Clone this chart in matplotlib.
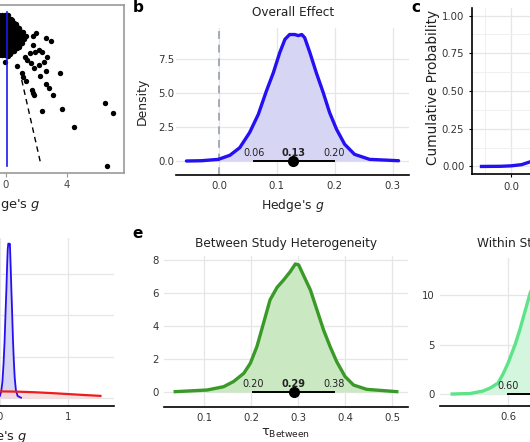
import matplotlib
matplotlib.use('Agg')
import matplotlib.pyplot as plt
from matplotlib.ticker import FormatStrFormatter

# ---- data ----
# funnel plot (panel a): Hedge's g vs standard error (y grows downwards)
funnel_pts = [
    # dense cluster near the top
    (-0.46, 0.10), (-0.26, 0.10), (-0.07, 0.10), (0.13, 0.10),
    (-0.46, 0.14), (-0.26, 0.14), (-0.07, 0.14), (0.13, 0.14), (0.30, 0.14), (0.42, 0.15),
    (-0.46, 0.18), (-0.26, 0.18), (-0.07, 0.18), (0.13, 0.18), (0.33, 0.18), (0.52, 0.18),
    (0.65, 0.19),
    (-0.46, 0.22), (-0.26, 0.22), (-0.07, 0.22), (0.13, 0.22), (0.33, 0.22), (0.52, 0.22),
    (0.72, 0.22), (0.85, 0.23),
    (-0.46, 0.26), (-0.26, 0.26), (-0.07, 0.26), (0.13, 0.26), (0.33, 0.26), (0.52, 0.26),
    (0.72, 0.26), (0.90, 0.26), (1.10, 0.27),
    (-0.46, 0.30), (-0.26, 0.30), (-0.07, 0.30), (0.13, 0.30), (0.33, 0.30), (0.52, 0.30),
    (0.72, 0.30), (0.90, 0.30), (1.10, 0.30), (1.30, 0.31),
    (-0.46, 0.34), (-0.26, 0.34), (-0.07, 0.34), (0.13, 0.34), (0.33, 0.34), (0.52, 0.34),
    (0.72, 0.34), (0.90, 0.34), (1.05, 0.35), (1.20, 0.34),
    (-0.46, 0.38), (-0.26, 0.38), (-0.07, 0.38), (0.13, 0.38), (0.33, 0.38), (0.52, 0.38),
    (0.72, 0.38), (0.90, 0.39), (1.05, 0.38),
    (-0.46, 0.42), (-0.26, 0.42), (-0.07, 0.42), (0.13, 0.42), (0.33, 0.42), (0.52, 0.42),
    (0.72, 0.43), (0.85, 0.42),
    (-0.46, 0.46), (-0.26, 0.46), (-0.07, 0.46), (0.13, 0.46), (0.33, 0.47), (0.55, 0.46),
    (-0.46, 0.50), (-0.26, 0.50), (-0.07, 0.50), (0.13, 0.51), (0.25, 0.49),
    # individual studies around the cluster
    (1.97, 0.28), (1.77, 0.31), (2.62, 0.33), (2.95, 0.36), (1.77, 0.40), (2.16, 0.45),
    (2.36, 0.47), (1.57, 0.48), (1.90, 0.47), (1.25, 0.52), (1.38, 0.55), (-0.07, 0.57),
    (0.72, 0.61), (1.64, 0.58), (1.84, 0.63), (2.16, 0.60), (2.49, 0.57), (2.69, 0.52),
    (2.62, 0.66), (3.54, 0.68), (2.23, 0.71), (1.05, 0.68), (1.11, 0.72), (1.31, 0.76),
    (2.62, 0.79), (2.82, 0.83), (1.70, 0.85), (1.77, 0.88), (1.84, 0.90), (3.08, 0.90),
    (2.36, 1.06), (3.67, 1.04), (6.49, 0.98), (7.02, 1.08), (4.46, 1.22), (6.62, 1.61),
]
pooled_g = 0.09
pooled_se_span = [0.07, 1.61]
funnel_edge_g = [1.03, 2.28]
funnel_edge_se = [0.75, 1.59]

# overall effect posterior (panels b, d)
effect_x = [-0.056, -0.03, -0.001, 0.019, 0.036, 0.053, 0.068, 0.082, 0.094, 0.105,
            0.114, 0.122, 0.131, 0.137, 0.143, 0.148, 0.157, 0.168, 0.180, 0.191,
            0.203, 0.217, 0.234, 0.26, 0.31]
effect_dens = [0.0, 0.02, 0.12, 0.42, 0.98, 2.09, 3.43, 5.15, 6.5, 7.97,
               8.95, 9.3, 9.3, 9.22, 9.3, 9.07, 7.97, 6.5, 5.03, 3.56,
               2.33, 1.23, 0.49, 0.12, 0.02]
effect_ci = [0.061, 0.128, 0.199]   # lower, median, upper
null_effect = 0.0

# cumulative probability (panel c)
cdf_x = [-0.056, -0.04, -0.02, 0.0, 0.02, 0.04, 0.06, 0.08, 0.10, 0.12,
         0.14, 0.16, 0.18, 0.20, 0.25, 0.31]
cdf_y = [0.0, 0.0005, 0.001, 0.004, 0.012, 0.035, 0.08, 0.18, 0.33, 0.52,
         0.70, 0.84, 0.93, 0.97, 0.997, 1.0]

# prior for the effect (panel d)
prior_x = [-1.5, -1.25, -1.0, -0.75, -0.5, -0.25, 0.0, 0.25, 0.5, 0.75, 1.0, 1.25, 1.48]
prior_y = [0.13, 0.18, 0.24, 0.30, 0.35, 0.385, 0.40, 0.385, 0.35, 0.30, 0.24, 0.18, 0.13]

# between study heterogeneity (panel e)
tau_b_x = [0.038, 0.106, 0.141, 0.162, 0.184, 0.198, 0.212, 0.226, 0.240, 0.255,
           0.269, 0.283, 0.294, 0.301, 0.311, 0.326, 0.340, 0.354, 0.368, 0.382,
           0.400, 0.418, 0.446, 0.51]
tau_b_dens = [0.02, 0.12, 0.32, 0.63, 1.13, 1.74, 2.75, 4.16, 5.58, 6.34,
              6.79, 7.29, 7.76, 7.7, 7.09, 6.18, 4.97, 3.76, 2.75, 1.84,
              0.93, 0.42, 0.16, 0.02]
tau_b_ci = [0.204, 0.29, 0.376]

# within study heterogeneity (panel f)
tau_w_x = [0.522, 0.547, 0.565, 0.575, 0.586, 0.593, 0.600, 0.610, 0.617, 0.624,
           0.631, 0.641, 0.652, 0.666, 0.680, 0.701, 0.728, 0.756, 0.791, 0.857]
tau_w_dens = [0.0, 0.05, 0.3, 0.6, 1.1, 2.0, 3.1, 5.0, 6.6, 8.4,
              10.2, 11.9, 12.9, 12.5, 10.8, 7.5, 3.8, 1.5, 0.4, 0.0]
tau_w_ci = [0.60, 0.655, 0.745]

W, H = 530, 442
BLUE = '#2410f2'
BLUE_FILL = '#d6d6f4'
RED = '#ee1c1c'
RED_FILL = '#f6d8d8'
GREEN = '#3a9a28'
GREEN_FILL = '#cae8c2'
LGREEN = '#5ee388'
LGREEN_FILL = '#d5f6de'
GRID = '#e6e6e6'
TICK_FS = 7.3


def box(left, top, right, bottom):
    """axes rectangle from pixel edges of the 530x442 canvas"""
    return [left / W, 1 - bottom / H, (right - left) / W, (bottom - top) / H]


def minimal(ax, left_line=False):
    for s in ['top', 'right', 'left']:
        ax.spines[s].set_visible(False)
    ax.spines['bottom'].set_color('black')
    ax.spines['bottom'].set_linewidth(1.2)
    if left_line:
        ax.spines['left'].set_visible(True)
        ax.spines['left'].set_color('black')
        ax.spines['left'].set_linewidth(1.2)
    ax.grid(True, color=GRID, linewidth=0.9)
    ax.set_axisbelow(True)
    ax.tick_params(length=0, labelsize=TICK_FS, labelcolor='#333333', pad=4)


def interval(ax, ci, color='black'):
    lo, med, hi = ci
    ax.plot([lo, hi], [0, 0], color=color, lw=1.4, zorder=4)
    ax.plot(med, 0, 'o', color=color, ms=7, zorder=5)
    for v, w in [(lo, 'normal'), (med, 'bold'), (hi, 'normal')]:
        ax.annotate(f'{v:.2f}', (v, 0), xytext=(0, 3.5), textcoords='offset points',
                    ha='center', va='baseline', fontsize=7, fontweight=w, color='#222222')


fig = plt.figure(figsize=(W / 100, H / 100), dpi=100)

# ---- a: funnel plot ----
ax = fig.add_axes(box(-110, 5, 124, 173))
g, se = zip(*funnel_pts)
ax.scatter(g, se, s=15, color='black', zorder=3, linewidths=0)
ax.plot([pooled_g, pooled_g], pooled_se_span, color='#1a1aee', lw=1.2, zorder=4)
ax.plot(funnel_edge_g, funnel_edge_se, color='black', lw=1, ls=(0, (4, 3)), zorder=2)
ax.set_xlim(-7.61, 7.74)
ax.set_ylim(1.68, 0)
for s in ax.spines.values():
    s.set_color('#9a9a9a')
    s.set_linewidth(1.2)
ax.set_xticks([-4, 0, 4])
ax.set_yticks([])
ax.tick_params(axis='x', length=3, color='#9a9a9a', labelsize=TICK_FS,
               labelcolor='#444444', pad=2)
ax.set_xlabel("Hedge's $g$", fontsize=9.4, color='#222222')
ax.xaxis.set_label_coords(0.5, -0.135)

# ---- b: overall effect density ----
ax = fig.add_axes(box(176, 28, 409, 175))
minimal(ax)
ax.fill_between(effect_x, effect_dens, color=BLUE_FILL, lw=0, zorder=1)
ax.plot(effect_x, effect_dens, color=BLUE, lw=2.4, zorder=3, solid_capstyle='round')
ax.axvline(null_effect, color='#a3abba', lw=1.4, ls=(0, (4, 3)), zorder=2)
interval(ax, effect_ci)
ax.set_xlim(-0.074, 0.328)
ax.set_ylim(-1.03, 9.78)
ax.set_xticks([0.0, 0.1, 0.2, 0.3])
ax.set_yticks([0, 2.5, 5, 7.5])
ax.xaxis.set_major_formatter(FormatStrFormatter('%.1f'))
ax.yaxis.set_major_formatter(FormatStrFormatter('%.1f'))
ax.tick_params(axis='y', pad=1)
ax.set_xlabel("Hedge's $g$", fontsize=8.9, color='#222222')
ax.xaxis.set_label_coords(0.5, -0.15)
ax.set_ylabel('Density', fontsize=8.9, color='#222222')
ax.yaxis.set_label_coords(-0.115, 0.5)
fig.text(293 / W, 1 - 13 / H, 'Overall Effect', ha='center', va='center',
         fontsize=8.7, color='#222222')
fig.text(138 / W, 1 - 8 / H, 'b', ha='center', va='center', fontsize=11, fontweight='bold')

# ---- c: cumulative probability ----
ax = fig.add_axes(box(472, 8, 684, 174))
minimal(ax, left_line=True)
ax.plot(cdf_x, cdf_y, color=BLUE, lw=2.4, zorder=3)
ax.set_xlim(-0.074, 0.328)
ax.set_ylim(-0.05, 1.05)
ax.set_xticks([0.0, 0.1, 0.2, 0.3])
ax.set_xticks([-0.05, 0.05, 0.15, 0.25], minor=True)
ax.set_yticks([0, 0.25, 0.5, 0.75, 1.0])
ax.set_yticks([0.125, 0.375, 0.625, 0.875], minor=True)
ax.grid(True, which='minor', color='#f0f0f0', linewidth=0.7)
ax.tick_params(which='minor', length=0)
ax.tick_params(axis='both', which='major', length=2.5, color='black', pad=3)
ax.xaxis.set_major_formatter(FormatStrFormatter('%.1f'))
ax.yaxis.set_major_formatter(FormatStrFormatter('%.2f'))
ax.set_ylabel('Cumulative Probability', fontsize=9.8, color='#222222')
ax.yaxis.set_label_coords(-0.152, 0.52)
fig.text(416 / W, 1 - 8 / H, 'c', ha='center', va='center', fontsize=11, fontweight='bold')

# ---- d: prior vs posterior ----
ax = fig.add_axes(box(-112, 238, 114, 406))
minimal(ax)
ax.fill_between(effect_x, effect_dens, color=BLUE_FILL, lw=0, zorder=1)
ax.plot(effect_x, effect_dens, color=BLUE, lw=1.3, zorder=3)
ax.fill_between(prior_x, prior_y, color=RED_FILL, lw=0, alpha=0.8, zorder=2)
ax.plot(prior_x, prior_y, color=RED, lw=1.6, zorder=4)
ax.set_xlim(-1.65, 1.68)
ax.set_ylim(-0.48, 9.64)
ax.set_xticks([-1, 0, 1])
ax.set_yticks([0, 2.5, 5, 7.5])
ax.yaxis.set_major_formatter(FormatStrFormatter('%.1f'))
ax.set_xlabel("Hedge's $g$", fontsize=9.4, color='#222222')
ax.xaxis.set_label_coords(0.47, -0.13)

# ---- e: between study heterogeneity ----
ax = fig.add_axes(box(164, 256, 408, 407))
minimal(ax)
ax.fill_between(tau_b_x, tau_b_dens, color=GREEN_FILL, lw=0, zorder=1)
ax.plot(tau_b_x, tau_b_dens, color=GREEN, lw=2.4, zorder=3)
interval(ax, tau_b_ci)
ax.set_xlim(0.014, 0.534)
ax.set_ylim(-0.91, 8.24)
ax.set_xticks([0.1, 0.2, 0.3, 0.4, 0.5])
ax.set_yticks([0, 2, 4, 6, 8])
ax.set_xlabel(r'$\mathregular{\tau_{Between}}$', fontsize=9.4, color='#222222')
ax.xaxis.set_label_coords(0.5, -0.13)
fig.text(286 / W, 1 - 243 / H, 'Between Study Heterogeneity', ha='center', va='center',
         fontsize=8.7, color='#222222')
fig.text(138 / W, 1 - 233 / H, 'e', ha='center', va='center', fontsize=11, fontweight='bold')

# ---- f: within study heterogeneity ----
ax = fig.add_axes(box(440, 258, 704, 406))
minimal(ax)
ax.fill_between(tau_w_x, tau_w_dens, color=LGREEN_FILL, lw=0, zorder=1)
ax.plot(tau_w_x, tau_w_dens, color=LGREEN, lw=2.4, zorder=3)
interval(ax, tau_w_ci)
ax.set_xlim(0.505, 0.874)
ax.set_ylim(-1.21, 13.74)
ax.set_xticks([0.6, 0.7, 0.8])
ax.set_yticks([0, 5, 10])
ax.xaxis.set_major_formatter(FormatStrFormatter('%.1f'))
fig.text(561 / W, 1 - 243 / H, 'Within Study Heterogeneity', ha='center', va='center',
         fontsize=8.7, color='#222222')

fig.savefig('out.png', dpi=100)
